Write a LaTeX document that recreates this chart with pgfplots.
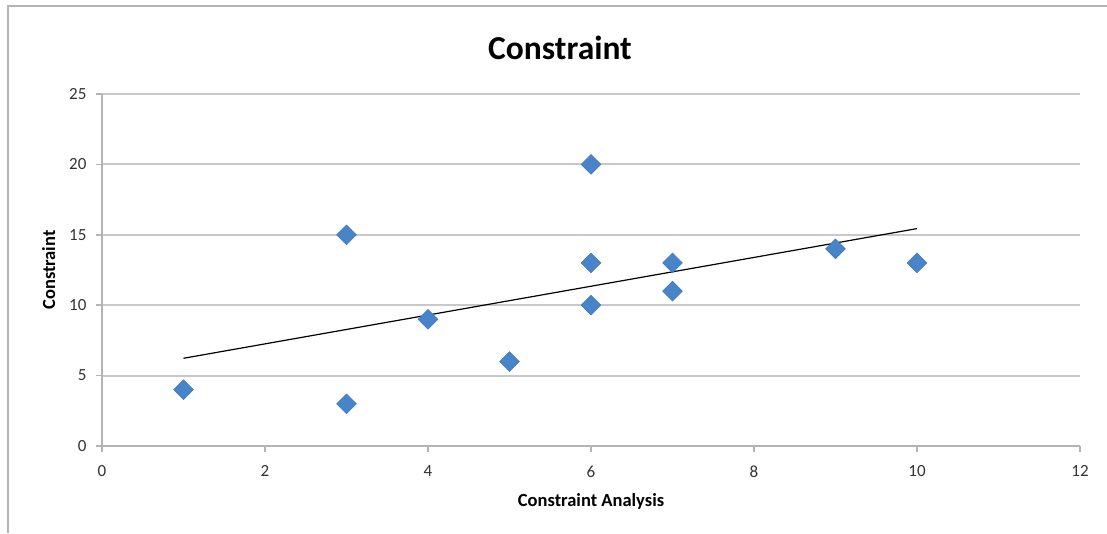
\documentclass[border=0pt]{standalone}
\usepackage{pgfplots}
\pgfplotsset{compat=1.18}
\usepackage{fontspec}
\setmainfont{Carlito}
\definecolor{gridgray}{RGB}{200,200,200}
\definecolor{axgray}{RGB}{180,180,180}
\definecolor{ptblue}{RGB}{72,132,202}
\begin{document}
\begin{tikzpicture}[x=1pt,y=1pt]
\path[use as bounding box] (0pt,0pt) rectangle (1107pt,533pt);
\draw[color=axgray, line width=2.5pt] (8pt,0pt) -- (8pt,527pt) -- (1107pt,527pt);
\begin{axis}[
  at={(102pt,87pt)}, anchor=origin,
  scale only axis, width=978pt, height=352pt,
  xmin=0, xmax=12, ymin=0, ymax=25,
  xtick={0,2,...,12}, ytick={0,5,...,25},
  axis lines=left, axis line style={-, color=axgray, line width=2pt},
  ymajorgrids, grid style={color=gridgray, line width=2pt},
  tick align=outside, major tick length=6pt,
  tick style={color=axgray, line width=1.5pt},
  ticklabel style={font=\fontsize{17}{18}\selectfont, text=black!80},
  /pgf/number format/assume math mode=true,
  xlabel={\textbf{Constraint Analysis}},
  ylabel={\textbf{Constraint}},
  xlabel style={font=\fontsize{18.5}{20}\selectfont, at={(axis description cs:0.5,-0.158)}, anchor=center},
  ylabel style={font=\fontsize{18.5}{20}\selectfont, at={(axis description cs:-0.0545,0.5)}, anchor=center},
  yticklabel style={xshift=-6pt},
  xticklabel style={yshift=-10pt},
  clip=false,
]
\addplot[black, line width=1.2pt] coordinates {(1,6.23) (10,15.44)};
\addplot[only marks, mark=square*, mark size=7pt, mark options={rotate=45, fill=ptblue, draw=ptblue!90!black, line width=0.5pt}] coordinates {
(1,4) (3,15) (3,3) (4,9) (5,6) (6,20) (6,13) (6,10) (7,13) (7,11) (9,14) (10,13)
};
\end{axis}
\node[font=\fontsize{33.5}{36}\selectfont\bfseries] at (560pt,485pt) {Constraint};
\end{tikzpicture}
\end{document}
